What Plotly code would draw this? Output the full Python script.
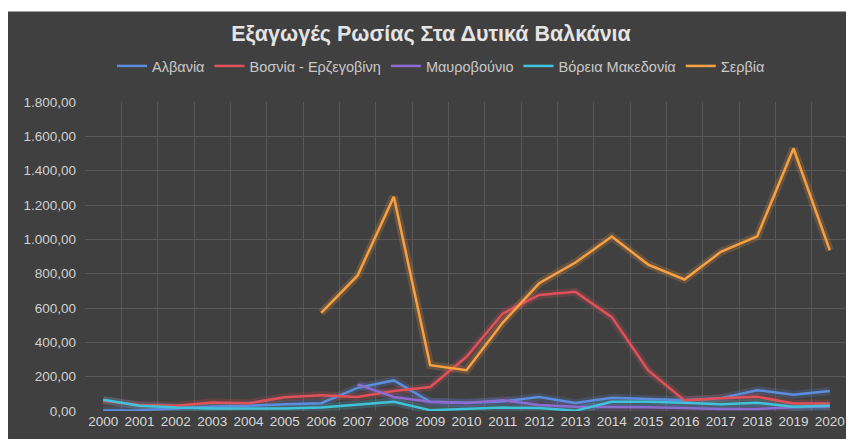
import plotly.graph_objects as go

years = [str(y) for y in range(2000, 2021)]

albania = [3, 5, 15, 25, 30, 40, 45, 135, 178, 54, 48, 56, 82, 46, 77, 69, 63, 75, 121, 95, 117]
bosnia = [60, 35, 30, 50, 45, 80, 92, 82, 117, 140, 316, 568, 676, 694, 547, 236, 62, 75, 83, 44, 44]
montenegro = [None, None, None, None, None, None, None, 155, 82, 54, 46, 63, 35, 25, 25, 22, 17, 12, 12, 22, 25]
macedonia = [65, 30, 20, 15, 15, 15, 20, 35, 54, 5, 12, 20, 17, 2, 54, 54, 48, 40, 48, 25, 30]
serbia = [None, None, None, None, None, None, 571, 788, 1248, 267, 238, 515, 744, 865, 1016, 853, 766, 927, 1017, 1529, 936]

series_names = ["Αλβανία", "Βοσνία - Ερζεγοβίνη", "Μαυροβούνιο", "Βόρεια Μακεδονία", "Σερβία"]
series_values = [albania, bosnia, montenegro, macedonia, serbia]
series_colors = ["#5d8ddc", "#e0525a", "#8b6cd0", "#40c2da", "#f8a042"]

y_tick_vals = [0, 200, 400, 600, 800, 1000, 1200, 1400, 1600, 1800]
y_tick_text = ["0,00", "200,00", "400,00", "600,00", "800,00", "1.000,00",
               "1.200,00", "1.400,00", "1.600,00", "1.800,00"]

title_text = "Εξαγωγές Ρωσίας Στα Δυτικά Βαλκάνια"

fig = go.Figure()

# soft glow underlays
for name, vals, col in zip(series_names, series_values, series_colors):
    fig.add_trace(go.Scatter(x=years, y=vals, mode="lines", showlegend=False,
                             hoverinfo="skip", opacity=0.2,
                             line=dict(color=col, width=8)))

for name, vals, col in zip(series_names, series_values, series_colors):
    fig.add_trace(go.Scatter(x=years, y=vals, mode="lines", name=name,
                             line=dict(color=col, width=2.5)))

# page body adds an 8px offset; figure spans the rest of the window
W, H = 846, 431
L, R, T, B = 77, 6, 94, 28
pw, ph = W - L - R, H - T - B
DARK = "#404040"


def px_x(p):
    return (p - L) / pw


def px_y(p):
    return (H - B - p) / ph


fig.update_layout(
    width=W, height=H,
    margin=dict(l=L, r=R, t=T, b=B),
    paper_bgcolor="white",
    plot_bgcolor=DARK,
    font=dict(family="Liberation Sans, Arial, sans-serif", color="#d0d0d0"),
    title=dict(text="<b>" + title_text + "</b>", x=0.5, xref="container", xanchor="center",
               y=1 - 25 / H, yanchor="middle",
               font=dict(size=21.5, color="#e4e4e4", family="Liberation Sans, Arial, sans-serif")),
    legend=dict(orientation="h", x=433 / W, xanchor="center", xref="container",
                y=1 - 58 / H, yref="container", yanchor="middle",
                font=dict(size=14.5, color="#c8c8c8"),
                bgcolor="rgba(0,0,0,0)", itemwidth=30, tracegroupgap=0),
    xaxis=dict(type="category", range=[-0.5, 20.5], tickson="boundaries",
               showgrid=True, gridcolor="#585858", gridwidth=1,
               ticks="", showline=False, zeroline=False, tickangle=0,
               tickfont=dict(size=13.5, color="#d8d8d8")),
    yaxis=dict(range=[0, 1800], tickvals=y_tick_vals, ticktext=y_tick_text,
               showgrid=True, gridcolor="#585858", gridwidth=1,
               zeroline=False, showline=False, ticks="",
               tickfont=dict(size=13.5, color="#d0d0d0"), ticklabelstandoff=8),
    shapes=[
        dict(type="rect", xref="paper", yref="paper", x0=px_x(-10), x1=px_x(W + 10),
             y0=px_y(H + 10), y1=px_y(3.5), fillcolor=DARK, line=dict(width=0), layer="below"),
    ],
)

fig.write_html("out.html")
